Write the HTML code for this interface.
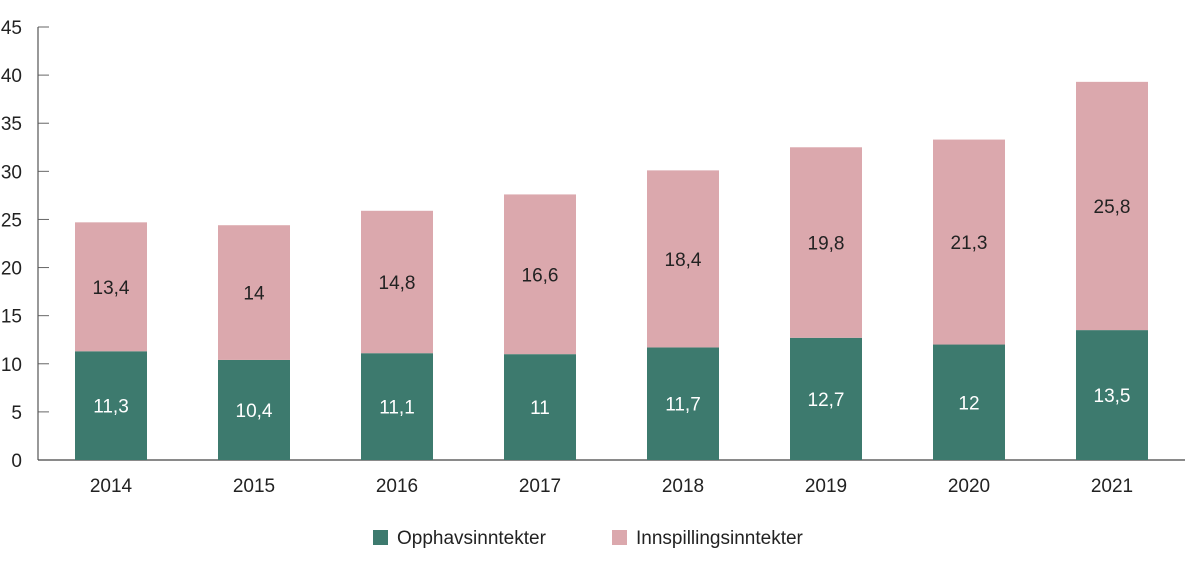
<!DOCTYPE html>
<html><head><meta charset="utf-8"><style>
body{margin:0;background:#fff;font-family:"Liberation Sans",sans-serif}
text{font-family:"Liberation Sans",sans-serif}
</style></head><body>
<svg id="chart" width="1200" height="566">
<g id="axes"></g><g id="bars"></g><g id="legend">
<rect x="373" y="530" width="15" height="15" fill="#3d7a6e"/>
<text x="397" y="544" font-size="19" fill="#222">Opphavsinntekter</text>
<rect x="612" y="530" width="15" height="15" fill="#dba8ad"/>
<text x="636" y="544" font-size="19" fill="#222">Innspillingsinntekter</text>
</g></svg>
<script>
const categories=["2014","2015","2016","2017","2018","2019","2020","2021"];
const opphav=[11.3,10.4,11.1,11,11.7,12.7,12,13.5];
const innspilling=[13.4,14,14.8,16.6,18.4,19.8,21.3,25.8];
const opphavLabels=["11,3","10,4","11,1","11","11,7","12,7","12","13,5"];
const innspillingLabels=["13,4","14","14,8","16,6","18,4","19,8","21,3","25,8"];
const yTicks=[0,5,10,15,20,25,30,35,40,45];
const NS="http://www.w3.org/2000/svg";
const y0=460,yTop=27,yMax=45;
const y=v=>y0-(y0-yTop)*v/yMax;
const x=i=>111+i*143;
const bw=72;
const axes=document.getElementById('axes'),bars=document.getElementById('bars');
function mk(tag,attrs,parent){const e=document.createElementNS(NS,tag);for(const k in attrs)e.setAttribute(k,attrs[k]);parent.appendChild(e);return e;}
yTicks.forEach(t=>{
 const l=mk('line',{x1:38,x2:49,y1:y(t),y2:y(t),stroke:'#666','stroke-width':1},axes);
 
 
 const tx=mk('text',{x:22,y:y(t)+7,'font-size':19,'text-anchor':'end',fill:'#222'},axes);
 tx.textContent=t;
 
 
});
const ya=mk('line',{x1:38,x2:38,y1:yTop,y2:y0,stroke:'#555','stroke-width':1.2},axes);


categories.forEach((c,i)=>{
 const a=opphav[i],b=innspilling[i];
 const r1=mk('rect',{x:x(i)-bw/2,y:y(a),width:bw,height:y0-y(a),fill:'#3d7a6e'},bars);
 
 
 const r2=mk('rect',{x:x(i)-bw/2,y:y(a+b),width:bw,height:y(a)-y(a+b),fill:'#dba8ad'},bars);
 
 
 const t1=mk('text',{x:x(i),y:(y0+y(a))/2+7,'font-size':19,'text-anchor':'middle',fill:'#fff'},bars);
 t1.textContent=opphavLabels[i];
 
 
 const t2=mk('text',{x:x(i),y:(y(a)+y(a+b))/2+7,'font-size':19,'text-anchor':'middle',fill:'#222'},bars);
 t2.textContent=innspillingLabels[i];
 
 
 const xl=mk('text',{x:x(i),y:492,'font-size':19,'text-anchor':'middle',fill:'#222'},axes);
 xl.textContent=c;
 
 
});
const xa=mk('line',{x1:38,x2:1185,y1:y0,y2:y0,stroke:'#444','stroke-width':1.3},axes);


</script>
</body></html>
